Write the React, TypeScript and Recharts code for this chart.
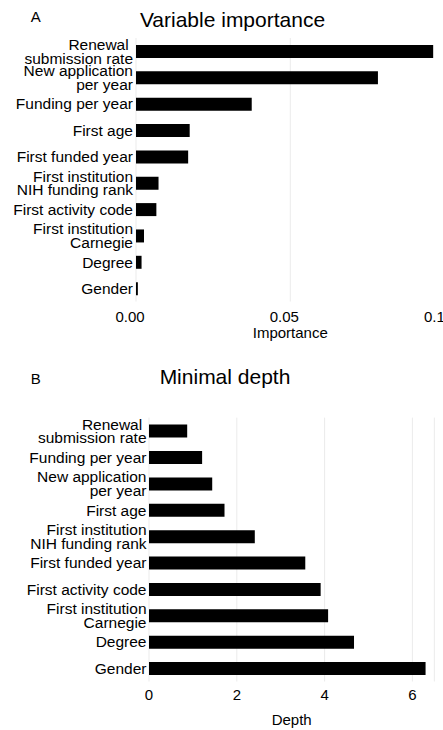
import React from 'react';
import { BarChart, Bar, XAxis, YAxis, CartesianGrid } from 'recharts';

const FONT = '"Liberation Sans", Arial, Helvetica, sans-serif';
const TEXT = '#000';

const importanceLabels = [
  'Renewal\u00a0\nsubmission rate',
  'New application\nper year',
  'Funding per year',
  'First age',
  'First funded year',
  'First institution\nNIH funding rank',
  'First activity code',
  'First institution\nCarnegie',
  'Degree',
  'Gender',
];
const importanceValues = [0.0963, 0.0784, 0.0375, 0.0174, 0.0169, 0.0073, 0.0066, 0.0026, 0.0018, 0.0006];
const importanceTicks = [0, 0.05, 0.1];

const depthLabels = [
  'Renewal\u00a0\nsubmission rate',
  'Funding per year',
  'New application\nper year',
  'First age',
  'First institution\nNIH funding rank',
  'First funded year',
  'First activity code',
  'First institution\nCarnegie',
  'Degree',
  'Gender',
];
const depthValues = [0.87, 1.21, 1.44, 1.72, 2.41, 3.56, 3.91, 4.08, 4.67, 6.3];
const depthTicks = [0, 2, 4, 6];

const importanceData = importanceLabels.map((name, i) => ({ name, value: importanceValues[i] }));
const depthData = depthLabels.map((name, i) => ({ name, value: depthValues[i] }));

const MultiTick = (props: any) => {
  const { x, y, payload } = props;
  const lines = String(payload.value).split('\n');
  const lh = 13.5;
  const start = -((lines.length - 1) * lh) / 2;
  return (
    <text x={x} y={y} textAnchor="end" fontSize={15.5} fill={TEXT} fontFamily={FONT}>
      {lines.map((l: string, i: number) => (
        <tspan key={i} x={x} y={y + start + i * lh} dy="0.36em">
          {l}
        </tspan>
      ))}
    </text>
  );
};

const abs = (left: number, top: number): React.CSSProperties => ({ position: 'absolute', left, top });

export default function App() {
  return (
    <div
      style={{
        position: 'absolute',
        left: 0,
        top: 0,
        width: 443,
        height: 730,
        overflow: 'hidden',
        background: '#fff',
        fontFamily: FONT,
        color: TEXT,
      }}
    >
      <div style={{ ...abs(30.7, 8.9), fontSize: 15, lineHeight: '15px' }}>A</div>
      <div style={{ ...abs(82.5, 9.4), width: 300, textAlign: 'center', fontSize: 21, lineHeight: '21px' }}>
        Variable importance
      </div>
      <div style={{ ...abs(30.7, 371.4), fontSize: 15, lineHeight: '15px' }}>B</div>
      <div style={{ ...abs(75, 365.9), width: 300, textAlign: 'center', fontSize: 21, lineHeight: '21px' }}>
        Minimal depth
      </div>

      <div style={abs(0, 0)}>
        <BarChart
          width={460}
          height={345}
          data={importanceData}
          layout="vertical"
          margin={{ top: 38, right: 15.4, left: 0, bottom: 0 }}
          barSize={13}
        >
          <CartesianGrid horizontal={false} stroke="#ebebeb" strokeWidth={1} />
          <XAxis
            type="number"
            dataKey="value"
            domain={[0, 0.1]}
            ticks={importanceTicks}
            interval={0}
            allowDataOverflow
            tickFormatter={(v: number) => v.toFixed(2)}
            axisLine={false}
            tickLine={false}
            tickSize={0}
            tickMargin={10}
            height={43.5}
            tick={{ fontSize: 15, fill: TEXT, fontFamily: FONT, dx: -6 }}
            label={{ value: 'Importance', position: 'insideBottom', offset: 7.5, fontSize: 15, fill: TEXT, fontFamily: FONT }}
          />
          <YAxis
            type="category"
            dataKey="name"
            width={136}
            axisLine={false}
            tickLine={false}
            tickSize={0}
            tickMargin={3}
            interval={0}
            tick={(p: any) => <MultiTick {...p} />}
          />
          <Bar dataKey="value" fill="#000" isAnimationActive={false} />
        </BarChart>
      </div>

      <div style={abs(0, 400)}>
        <BarChart
          width={443}
          height={330}
          data={depthData}
          layout="vertical"
          margin={{ top: 17.6, right: 8.65, left: 0, bottom: 0 }}
          barSize={13}
        >
          <CartesianGrid horizontal={false} stroke="#ebebeb" strokeWidth={1} />
          <XAxis
            type="number"
            dataKey="value"
            domain={[0, 6.5]}
            ticks={depthTicks}
            interval={0}
            allowDataOverflow
            axisLine={false}
            tickLine={false}
            tickSize={0}
            tickMargin={7.6}
            height={48.5}
            tick={{ fontSize: 15, fill: TEXT, fontFamily: FONT }}
            label={{ value: 'Depth', position: 'insideBottom', offset: 5, fontSize: 15, fill: TEXT, fontFamily: FONT }}
          />
          <YAxis
            type="category"
            dataKey="name"
            width={149}
            axisLine={false}
            tickLine={false}
            tickSize={0}
            tickMargin={2.5}
            interval={0}
            tick={(p: any) => <MultiTick {...p} />}
          />
          <Bar dataKey="value" fill="#000" isAnimationActive={false} />
        </BarChart>
      </div>
    </div>
  );
}
